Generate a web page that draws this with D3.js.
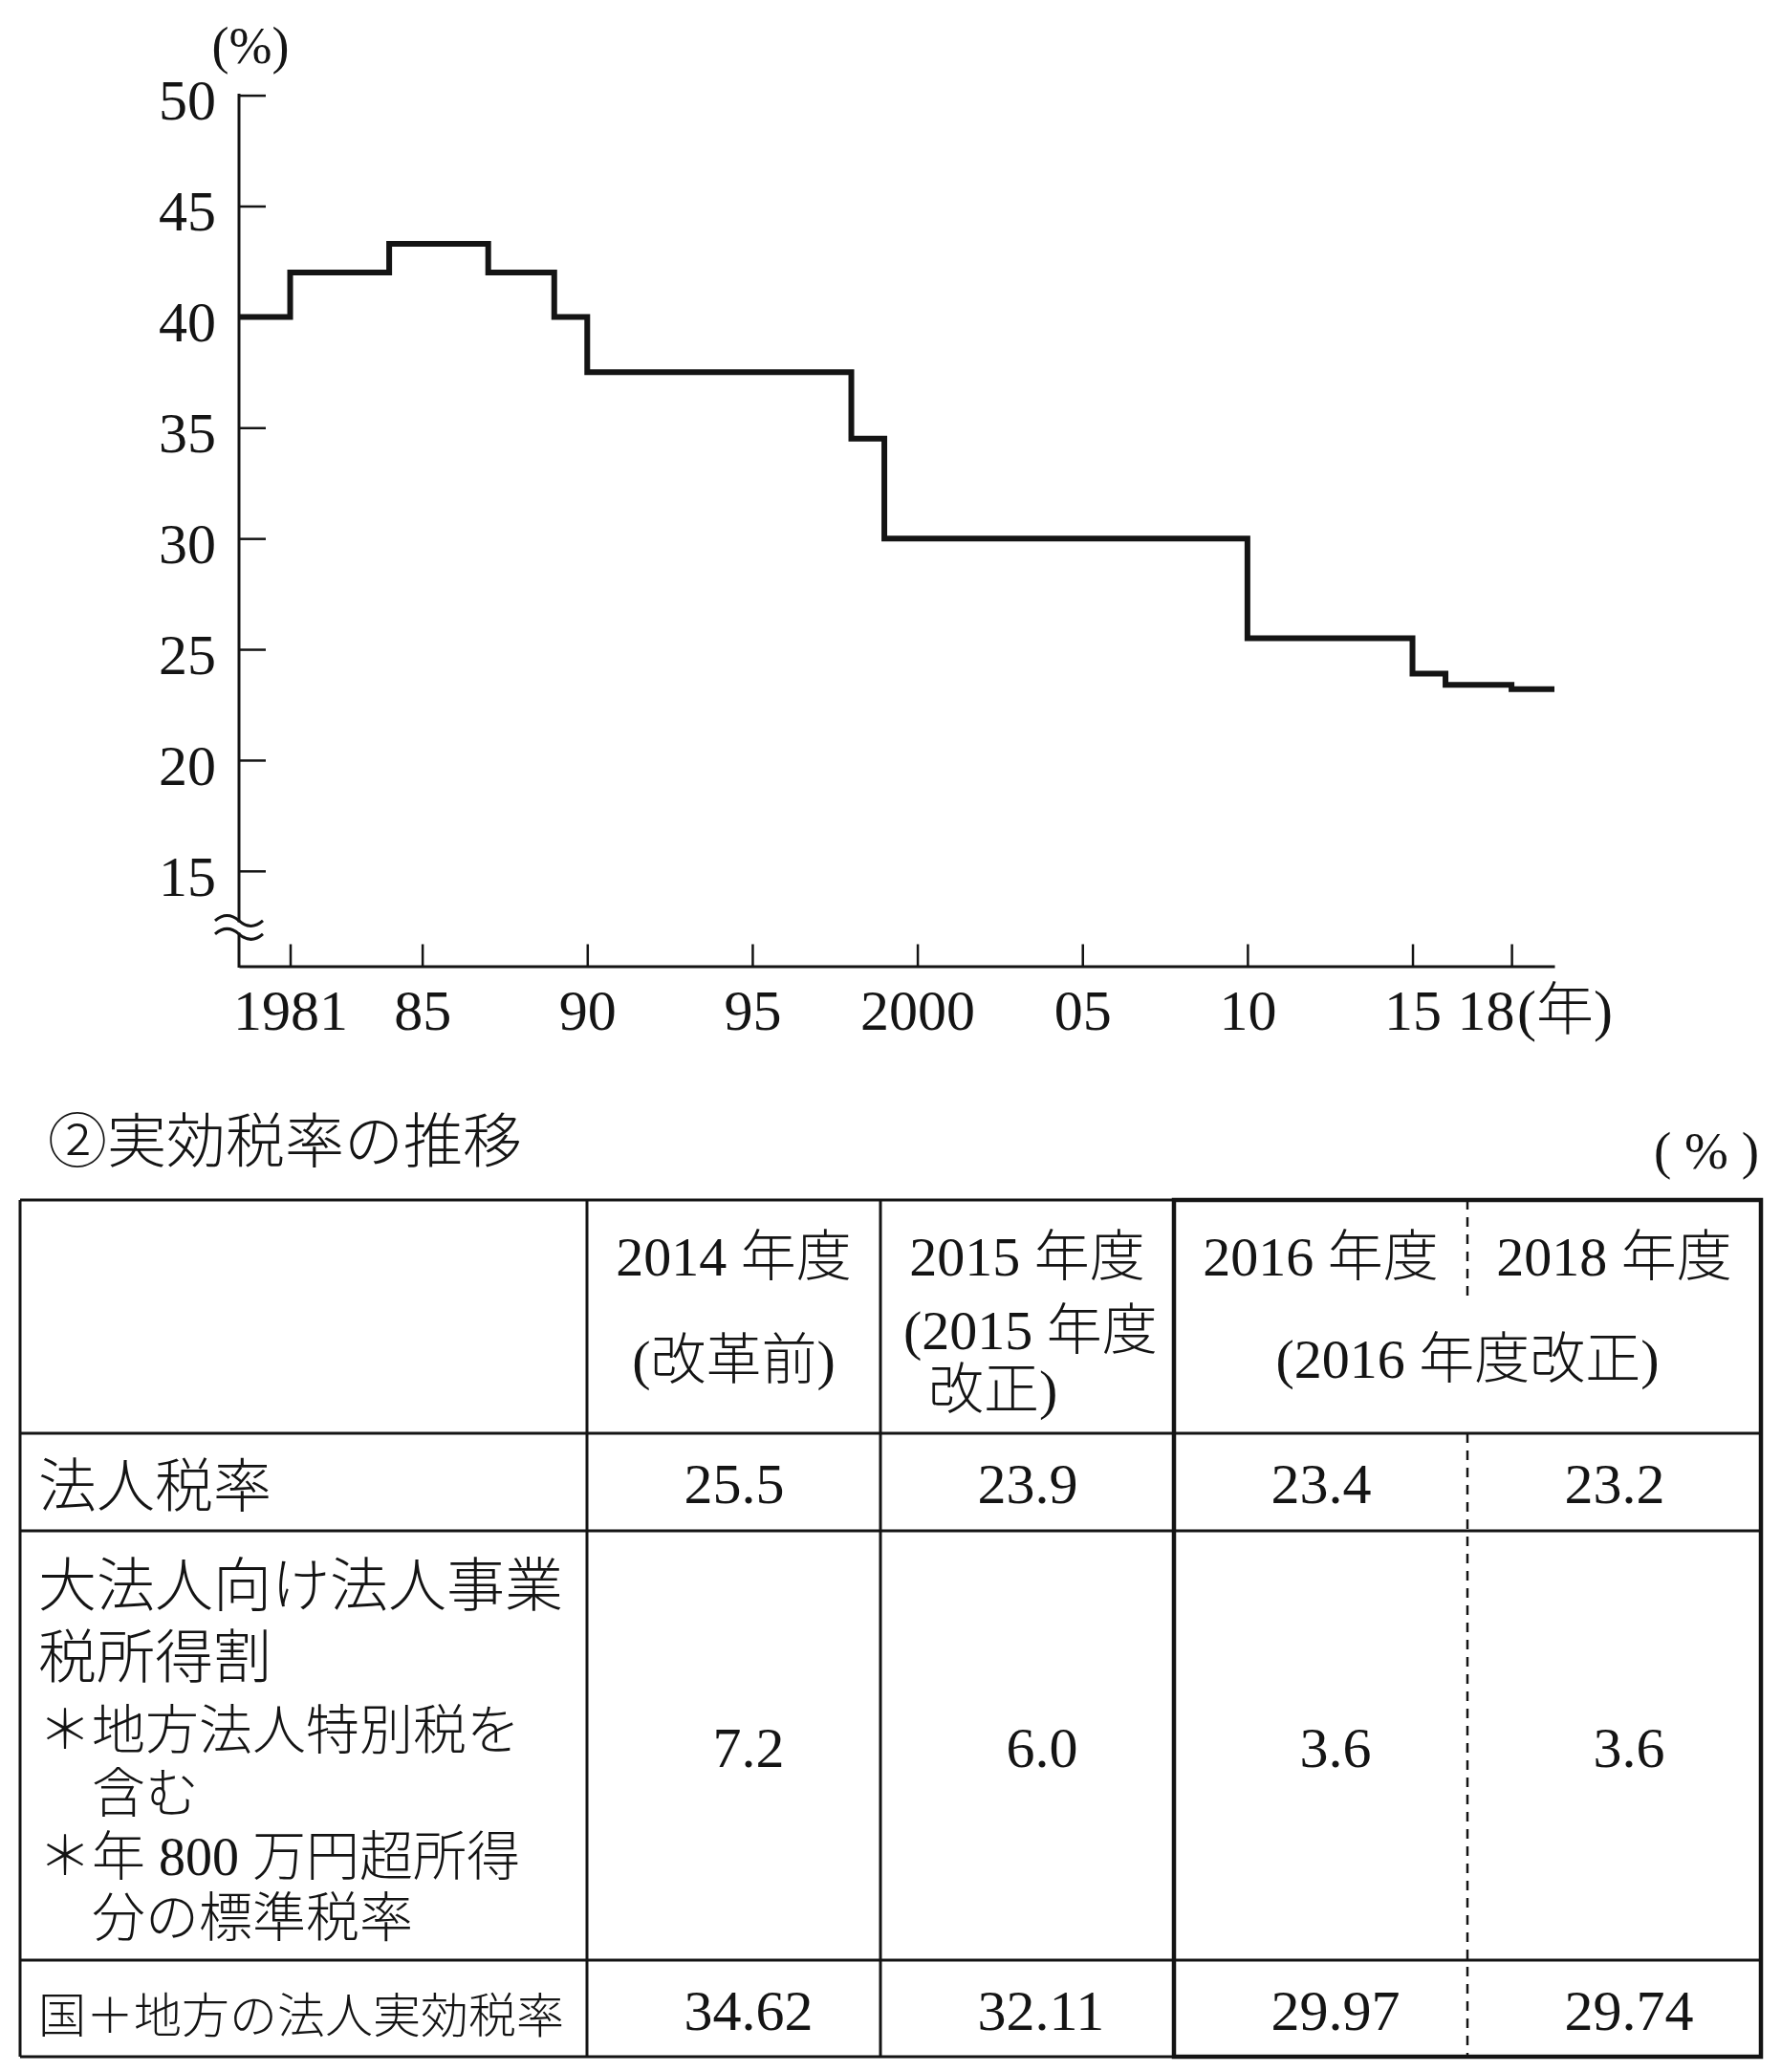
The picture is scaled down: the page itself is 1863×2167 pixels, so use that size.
<!DOCTYPE html>
<html>
<head>
<meta charset="utf-8">
<script src="https://cdn.jsdelivr.net/npm/d3@7"></script>
<style>
body { margin: 0; background: #fff; }
svg { display: block; }
</style>
</head>
<body>
<div id="chart"></div>
<script>
const WIDTH = 1863, HEIGHT = 2167;
const SERIF = "'Liberation Serif','Noto Sans CJK JP',serif";
const INK = "#141414";

// ① 法人税率の推移 (step chart)
const stepYears = [1981, 1984, 1987, 1989, 1990, 1998, 1999, 2010, 2015, 2016, 2018];
const stepRates = [42, 43.3, 42, 40, 37.5, 34.5, 30, 25.5, 23.9, 23.4, 23.2];
const startRate = 40;
const xTicks = [1981, 1985, 1990, 1995, 2000, 2005, 2010, 2015, 2018];
const xTickLabels = ["1981", "85", "90", "95", "2000", "05", "10", "15", "18"];
const yTicks = [15, 20, 25, 30, 35, 40, 45, 50];

// ② 実効税率の推移 (table)
const tableTitle = "②実効税率の推移";
const colYears = ["2014", "2015", "2016", "2018"];
const colNotes = [["(改革前)"], ["(2015 年度", "改正)"], ["(2016 年度改正)"]];
const rowLabels = [
  ["法人税率"],
  ["大法人向け法人事業", "税所得割", "＊地方法人特別税を", "含む", "＊年 800 万円超所得", "分の標準税率"],
  ["国＋地方の法人実効税率"]
];
const corpTax = [25.5, 23.9, 23.4, 23.2];
const bizTax = [7.2, 6.0, 3.6, 3.6];
const effTax = [34.62, 32.11, 29.97, 29.74];

const svg = d3.select("#chart").append("svg")
  .attr("width", WIDTH).attr("height", HEIGHT)
  .style("font-family", SERIF)
  .style("font-weight", 300);

// ---------- chart ----------
const x = d3.scaleLinear().domain([1979.45, 2019.3]).range([250, 1626]);
const y = d3.scaleLinear().domain([10.7, 50]).range([1010.5, 99.6]);

const xAxis = svg.append("g")
  .attr("transform", `translate(0,${y(y.domain()[0])})`)
  .call(d3.axisBottom(x).tickValues(xTicks)
    .tickFormat((d, i) => xTickLabels[i])
    .tickSizeInner(-23).tickSizeOuter(0).tickPadding(24));
xAxis.attr("font-family", SERIF).attr("font-size", 60);
xAxis.select(".domain").attr("stroke", INK).attr("stroke-width", 3);
xAxis.selectAll(".tick line").attr("stroke", INK).attr("stroke-width", 2.5);
xAxis.selectAll(".tick text").attr("fill", INK);
xAxis.selectAll(".tick text").filter(d => d === 2018)
  .attr("text-anchor", "end").attr("x", 3);

svg.append("text")
  .attr("x", x(2018) + 6).attr("y", 1077)
  .attr("font-size", 60).attr("fill", INK)
  .text("(年)");

const yAxis = svg.append("g")
  .attr("transform", `translate(${x(x.domain()[0])},0)`)
  .call(d3.axisLeft(y).tickValues(yTicks)
    .tickSizeInner(-28).tickSizeOuter(0).tickPadding(24));
yAxis.attr("font-family", SERIF).attr("font-size", 60);
yAxis.select(".domain").remove();
yAxis.selectAll(".tick line").attr("stroke", INK).attr("stroke-width", 2.5);
yAxis.selectAll(".tick text").attr("fill", INK).attr("dy", "0.42em");

// y axis line with a break near the bottom
const breakLo = 12.15, breakHi = 12.75;
const ax0 = x(x.domain()[0]);
svg.append("g").selectAll("line")
  .data([[50, breakHi], [breakLo, y.domain()[0]]])
  .join("line")
  .attr("x1", ax0).attr("x2", ax0)
  .attr("y1", d => y(d[0])).attr("y2", d => y(d[1]))
  .attr("stroke", INK).attr("stroke-width", 3).attr("stroke-linecap", "square");

svg.append("g").selectAll("path")
  .data([breakHi, breakLo])
  .join("path")
  .attr("d", v => `M${ax0 - 25},${y(v)} q12.5,-11 25,0 t25,0`)
  .attr("fill", "none").attr("stroke", INK).attr("stroke-width", 3);

svg.append("text")
  .attr("x", 262).attr("y", 66)
  .attr("text-anchor", "middle").attr("font-size", 54).attr("fill", INK)
  .text("(%)");

const points = [{year: x.domain()[0], rate: startRate}]
  .concat(stepYears.map((yr, i) => ({year: yr, rate: stepRates[i]})))
  .concat([{year: x.domain()[1], rate: stepRates[stepRates.length - 1]}]);

svg.append("path")
  .datum(points)
  .attr("d", d3.line().x(d => x(d.year)).y(d => y(d.rate)).curve(d3.curveStepAfter))
  .attr("fill", "none").attr("stroke", INK).attr("stroke-width", 6)
  .attr("stroke-linejoin", "miter");

// ---------- table ----------
svg.append("text")
  .attr("x", 50).attr("y", 1216)
  .attr("font-size", 62).attr("fill", INK)
  .text(tableTitle);

svg.append("text")
  .attr("x", 1840).attr("y", 1222)
  .attr("text-anchor", "end").attr("font-size", 55).attr("fill", INK)
  .attr("xml:space", "preserve")
  .text("( % )");

const T_LEFT = 21, T_LABEL = 614, T_RIGHT = 1842;
const rowEdges = [1255, 1499, 1601, 2050, 2151];
const col = d3.scaleBand().domain(colYears).range([T_LABEL, T_RIGHT]);
const bw = col.bandwidth();
const cx = c => col(c) + bw / 2;

const grid = svg.append("g").attr("stroke", INK).attr("fill", "none");
grid.selectAll(".h").data(rowEdges).join("line")
  .attr("class", "h")
  .attr("x1", T_LEFT).attr("x2", T_RIGHT)
  .attr("y1", d => d).attr("y2", d => d)
  .attr("stroke-width", 3);
grid.selectAll(".v").data([T_LEFT, T_LABEL, col("2015"), T_RIGHT]).join("line")
  .attr("class", "v")
  .attr("x1", d => d).attr("x2", d => d)
  .attr("y1", rowEdges[0]).attr("y2", rowEdges[rowEdges.length - 1])
  .attr("stroke-width", 3);
// heavier frame round the 2016 reform block
grid.append("rect")
  .attr("x", col("2016")).attr("y", rowEdges[0])
  .attr("width", T_RIGHT - col("2016")).attr("height", rowEdges[4] - rowEdges[0])
  .attr("stroke-width", 4.5);
grid.selectAll(".d").data([[rowEdges[0], 1357], [rowEdges[1], rowEdges[4]]]).join("line")
  .attr("class", "d")
  .attr("x1", col("2018")).attr("x2", col("2018"))
  .attr("y1", d => d[0]).attr("y2", d => d[1])
  .attr("stroke-width", 2.5).attr("stroke-dasharray", "10,8");

// header: years
svg.append("g").selectAll("text").data(colYears).join("text")
  .attr("x", d => cx(d)).attr("y", 1334)
  .attr("text-anchor", "middle").attr("font-size", 58).attr("fill", INK)
  .text(d => d + " 年度");

// header: notes
const hdr = svg.append("g").attr("font-size", 58).attr("fill", INK);
hdr.append("text").attr("x", cx("2014")).attr("y", 1442)
  .attr("text-anchor", "middle").text(colNotes[0][0]);
hdr.append("text").attr("x", col("2015") + 24).attr("y", 1411).text(colNotes[1][0]);
hdr.append("text").attr("x", col("2015") + 50).attr("y", 1473).text(colNotes[1][1]);
hdr.append("text").attr("x", col("2018")).attr("y", 1441)
  .attr("text-anchor", "middle").text(colNotes[2][0]);

// row labels
const labelLayout = [
  [{x: 40, y: 1576, fs: 61}],
  [{x: 40, y: 1680, fs: 61}, {x: 40, y: 1755, fs: 61},
   {x: 40, y: 1829, fs: 56}, {x: 96, y: 1895, fs: 56},
   {x: 40, y: 1961, fs: 56}, {x: 96, y: 2025, fs: 56}],
  [{x: 40, y: 2126, fs: 50}]
];
const lab = svg.append("g").attr("fill", INK);
rowLabels.forEach((lines, r) => {
  lines.forEach((t, i) => {
    const p = labelLayout[r][i];
    lab.append("text").attr("x", p.x).attr("y", p.y)
      .attr("font-size", p.fs).attr("xml:space", "preserve").text(t);
  });
});

// values, aligned on the decimal point
const rowsData = [
  {vals: corpTax, fmt: d3.format(".1f")},
  {vals: bizTax, fmt: d3.format(".1f")},
  {vals: effTax, fmt: d3.format(".2f")}
];
const vg = svg.append("g").attr("font-size", 60).attr("fill", INK);
rowsData.forEach((row, r) => {
  const base = (rowEdges[r + 1] + rowEdges[r + 2]) / 2 + 22;
  const cells = colYears.map((c, i) => {
    const s = row.fmt(row.vals[i]);
    const k = s.indexOf(".");
    return {dx: cx(c) + 8, ip: s.slice(0, k), fp: s.slice(k)};
  });
  vg.selectAll(null).data(cells).join("text")
    .attr("x", d => d.dx).attr("y", base)
    .attr("text-anchor", "end").text(d => d.ip);
  vg.selectAll(null).data(cells).join("text")
    .attr("x", d => d.dx).attr("y", base)
    .attr("text-anchor", "start").text(d => d.fp);
});
</script>
</body>
</html>
